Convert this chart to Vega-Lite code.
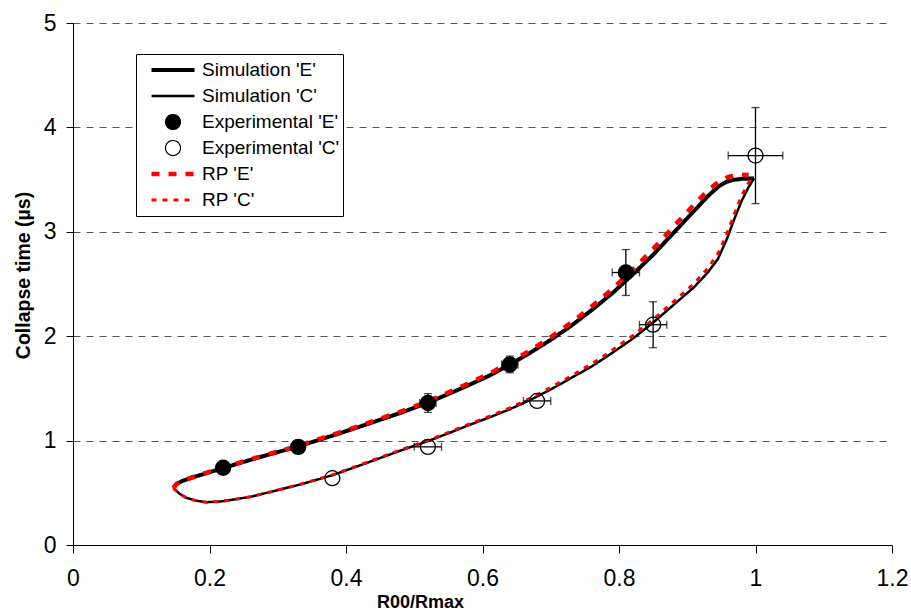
{
  "$schema": "https://vega.github.io/schema/vega-lite/v6.json",
  "width": 819,
  "height": 522,
  "autosize": {"type": "none"},
  "padding": {"left": 73, "top": 23, "right": 19, "bottom": 70},
  "background": "white",
  "config": {
    "view": {"stroke": null},
    "font": "Liberation Sans",
    "axis": {"labelFont": "Liberation Sans", "titleFont": "Liberation Sans", "labelColor": "black", "titleColor": "black", "domainColor": "black", "tickColor": "black", "labelFontSize": 23, "titleFontWeight": "bold", "labelFlush": false, "labelOverlap": false, "format": "~g"},
    "axisX": {"grid": false, "tickSize": 8, "labelPadding": 14, "titleFontSize": 18, "titleX": 347, "titleY": 48, "titleAnchor": "middle", "titleBaseline": "top"},
    "axisY": {"grid": true, "gridDash": [7, 6], "gridColor": "#555555", "gridWidth": 1, "tickSize": 7, "labelPadding": 10, "titleFontSize": 19.5, "titleX": -40, "titleY": 252, "titleAnchor": "middle", "titleAngle": -90, "titleBaseline": "bottom"}
  },
  "datasets": {
    "curves": [
      {"series": "Simulation 'E'", "i": 1, "x": 0.147, "y": 0.546},
      {"series": "Simulation 'E'", "i": 2, "x": 0.152, "y": 0.585},
      {"series": "Simulation 'E'", "i": 3, "x": 0.160, "y": 0.613},
      {"series": "Simulation 'E'", "i": 4, "x": 0.180, "y": 0.657},
      {"series": "Simulation 'E'", "i": 5, "x": 0.220, "y": 0.737},
      {"series": "Simulation 'E'", "i": 6, "x": 0.270, "y": 0.835},
      {"series": "Simulation 'E'", "i": 7, "x": 0.330, "y": 0.944},
      {"series": "Simulation 'E'", "i": 8, "x": 0.390, "y": 1.068},
      {"series": "Simulation 'E'", "i": 9, "x": 0.440, "y": 1.177},
      {"series": "Simulation 'E'", "i": 10, "x": 0.480, "y": 1.266},
      {"series": "Simulation 'E'", "i": 11, "x": 0.520, "y": 1.362},
      {"series": "Simulation 'E'", "i": 12, "x": 0.576, "y": 1.520},
      {"series": "Simulation 'E'", "i": 13, "x": 0.610, "y": 1.622},
      {"series": "Simulation 'E'", "i": 14, "x": 0.640, "y": 1.727},
      {"series": "Simulation 'E'", "i": 15, "x": 0.670, "y": 1.842},
      {"series": "Simulation 'E'", "i": 16, "x": 0.700, "y": 1.965},
      {"series": "Simulation 'E'", "i": 17, "x": 0.730, "y": 2.100},
      {"series": "Simulation 'E'", "i": 18, "x": 0.760, "y": 2.250},
      {"series": "Simulation 'E'", "i": 19, "x": 0.790, "y": 2.410},
      {"series": "Simulation 'E'", "i": 20, "x": 0.820, "y": 2.590},
      {"series": "Simulation 'E'", "i": 21, "x": 0.850, "y": 2.780},
      {"series": "Simulation 'E'", "i": 22, "x": 0.880, "y": 2.990},
      {"series": "Simulation 'E'", "i": 23, "x": 0.910, "y": 3.200},
      {"series": "Simulation 'E'", "i": 24, "x": 0.930, "y": 3.340},
      {"series": "Simulation 'E'", "i": 25, "x": 0.945, "y": 3.430},
      {"series": "Simulation 'E'", "i": 26, "x": 0.957, "y": 3.478},
      {"series": "Simulation 'E'", "i": 27, "x": 0.968, "y": 3.498},
      {"series": "Simulation 'E'", "i": 28, "x": 0.980, "y": 3.507},
      {"series": "Simulation 'E'", "i": 29, "x": 0.998, "y": 3.512},
      {"series": "Simulation 'C'", "i": 1, "x": 0.147, "y": 0.546},
      {"series": "Simulation 'C'", "i": 2, "x": 0.156, "y": 0.492},
      {"series": "Simulation 'C'", "i": 3, "x": 0.166, "y": 0.452},
      {"series": "Simulation 'C'", "i": 4, "x": 0.180, "y": 0.425},
      {"series": "Simulation 'C'", "i": 5, "x": 0.195, "y": 0.410},
      {"series": "Simulation 'C'", "i": 6, "x": 0.215, "y": 0.416},
      {"series": "Simulation 'C'", "i": 7, "x": 0.234, "y": 0.434},
      {"series": "Simulation 'C'", "i": 8, "x": 0.260, "y": 0.462},
      {"series": "Simulation 'C'", "i": 9, "x": 0.283, "y": 0.498},
      {"series": "Simulation 'C'", "i": 10, "x": 0.332, "y": 0.578},
      {"series": "Simulation 'C'", "i": 11, "x": 0.380, "y": 0.668},
      {"series": "Simulation 'C'", "i": 12, "x": 0.430, "y": 0.785},
      {"series": "Simulation 'C'", "i": 13, "x": 0.478, "y": 0.900},
      {"series": "Simulation 'C'", "i": 14, "x": 0.520, "y": 0.995},
      {"series": "Simulation 'C'", "i": 15, "x": 0.550, "y": 1.070},
      {"series": "Simulation 'C'", "i": 16, "x": 0.580, "y": 1.148},
      {"series": "Simulation 'C'", "i": 17, "x": 0.610, "y": 1.222},
      {"series": "Simulation 'C'", "i": 18, "x": 0.640, "y": 1.300},
      {"series": "Simulation 'C'", "i": 19, "x": 0.670, "y": 1.390},
      {"series": "Simulation 'C'", "i": 20, "x": 0.700, "y": 1.490},
      {"series": "Simulation 'C'", "i": 21, "x": 0.730, "y": 1.600},
      {"series": "Simulation 'C'", "i": 22, "x": 0.760, "y": 1.710},
      {"series": "Simulation 'C'", "i": 23, "x": 0.790, "y": 1.840},
      {"series": "Simulation 'C'", "i": 24, "x": 0.820, "y": 1.975},
      {"series": "Simulation 'C'", "i": 25, "x": 0.850, "y": 2.130},
      {"series": "Simulation 'C'", "i": 26, "x": 0.880, "y": 2.300},
      {"series": "Simulation 'C'", "i": 27, "x": 0.910, "y": 2.470},
      {"series": "Simulation 'C'", "i": 28, "x": 0.930, "y": 2.610},
      {"series": "Simulation 'C'", "i": 29, "x": 0.945, "y": 2.740},
      {"series": "Simulation 'C'", "i": 30, "x": 0.958, "y": 2.930},
      {"series": "Simulation 'C'", "i": 31, "x": 0.970, "y": 3.140},
      {"series": "Simulation 'C'", "i": 32, "x": 0.980, "y": 3.300},
      {"series": "Simulation 'C'", "i": 33, "x": 0.990, "y": 3.430},
      {"series": "Simulation 'C'", "i": 34, "x": 0.998, "y": 3.512},
      {"series": "RP 'E'", "i": 1, "x": 0.147, "y": 0.546},
      {"series": "RP 'E'", "i": 2, "x": 0.152, "y": 0.587},
      {"series": "RP 'E'", "i": 3, "x": 0.160, "y": 0.615},
      {"series": "RP 'E'", "i": 4, "x": 0.180, "y": 0.660},
      {"series": "RP 'E'", "i": 5, "x": 0.220, "y": 0.741},
      {"series": "RP 'E'", "i": 6, "x": 0.270, "y": 0.840},
      {"series": "RP 'E'", "i": 7, "x": 0.330, "y": 0.950},
      {"series": "RP 'E'", "i": 8, "x": 0.390, "y": 1.076},
      {"series": "RP 'E'", "i": 9, "x": 0.440, "y": 1.187},
      {"series": "RP 'E'", "i": 10, "x": 0.480, "y": 1.278},
      {"series": "RP 'E'", "i": 11, "x": 0.520, "y": 1.375},
      {"series": "RP 'E'", "i": 12, "x": 0.576, "y": 1.537},
      {"series": "RP 'E'", "i": 13, "x": 0.610, "y": 1.641},
      {"series": "RP 'E'", "i": 14, "x": 0.640, "y": 1.748},
      {"series": "RP 'E'", "i": 15, "x": 0.670, "y": 1.865},
      {"series": "RP 'E'", "i": 16, "x": 0.700, "y": 1.990},
      {"series": "RP 'E'", "i": 17, "x": 0.730, "y": 2.130},
      {"series": "RP 'E'", "i": 18, "x": 0.760, "y": 2.285},
      {"series": "RP 'E'", "i": 19, "x": 0.790, "y": 2.450},
      {"series": "RP 'E'", "i": 20, "x": 0.820, "y": 2.635},
      {"series": "RP 'E'", "i": 21, "x": 0.850, "y": 2.835},
      {"series": "RP 'E'", "i": 22, "x": 0.880, "y": 3.050},
      {"series": "RP 'E'", "i": 23, "x": 0.910, "y": 3.260},
      {"series": "RP 'E'", "i": 24, "x": 0.930, "y": 3.395},
      {"series": "RP 'E'", "i": 25, "x": 0.945, "y": 3.475},
      {"series": "RP 'E'", "i": 26, "x": 0.960, "y": 3.525},
      {"series": "RP 'E'", "i": 27, "x": 0.976, "y": 3.547},
      {"series": "RP 'E'", "i": 28, "x": 0.990, "y": 3.545},
      {"series": "RP 'C'", "i": 1, "x": 0.147, "y": 0.546},
      {"series": "RP 'C'", "i": 2, "x": 0.156, "y": 0.492},
      {"series": "RP 'C'", "i": 3, "x": 0.166, "y": 0.452},
      {"series": "RP 'C'", "i": 4, "x": 0.180, "y": 0.425},
      {"series": "RP 'C'", "i": 5, "x": 0.195, "y": 0.410},
      {"series": "RP 'C'", "i": 6, "x": 0.215, "y": 0.416},
      {"series": "RP 'C'", "i": 7, "x": 0.234, "y": 0.434},
      {"series": "RP 'C'", "i": 8, "x": 0.260, "y": 0.462},
      {"series": "RP 'C'", "i": 9, "x": 0.283, "y": 0.498},
      {"series": "RP 'C'", "i": 10, "x": 0.332, "y": 0.580},
      {"series": "RP 'C'", "i": 11, "x": 0.380, "y": 0.672},
      {"series": "RP 'C'", "i": 12, "x": 0.430, "y": 0.790},
      {"series": "RP 'C'", "i": 13, "x": 0.478, "y": 0.906},
      {"series": "RP 'C'", "i": 14, "x": 0.520, "y": 1.002},
      {"series": "RP 'C'", "i": 15, "x": 0.550, "y": 1.078},
      {"series": "RP 'C'", "i": 16, "x": 0.580, "y": 1.157},
      {"series": "RP 'C'", "i": 17, "x": 0.610, "y": 1.233},
      {"series": "RP 'C'", "i": 18, "x": 0.640, "y": 1.313},
      {"series": "RP 'C'", "i": 19, "x": 0.670, "y": 1.405},
      {"series": "RP 'C'", "i": 20, "x": 0.700, "y": 1.508},
      {"series": "RP 'C'", "i": 21, "x": 0.730, "y": 1.620},
      {"series": "RP 'C'", "i": 22, "x": 0.760, "y": 1.735},
      {"series": "RP 'C'", "i": 23, "x": 0.790, "y": 1.865},
      {"series": "RP 'C'", "i": 24, "x": 0.820, "y": 2.005},
      {"series": "RP 'C'", "i": 25, "x": 0.850, "y": 2.160},
      {"series": "RP 'C'", "i": 26, "x": 0.880, "y": 2.330},
      {"series": "RP 'C'", "i": 27, "x": 0.910, "y": 2.505},
      {"series": "RP 'C'", "i": 28, "x": 0.930, "y": 2.650},
      {"series": "RP 'C'", "i": 29, "x": 0.945, "y": 2.790},
      {"series": "RP 'C'", "i": 30, "x": 0.958, "y": 2.980},
      {"series": "RP 'C'", "i": 31, "x": 0.970, "y": 3.190},
      {"series": "RP 'C'", "i": 32, "x": 0.980, "y": 3.350},
      {"series": "RP 'C'", "i": 33, "x": 0.990, "y": 3.470},
      {"series": "RP 'C'", "i": 34, "x": 0.995, "y": 3.530}
    ],
    "points": [
      {"series": "Experimental 'E'", "x": 0.22, "y": 0.74},
      {"series": "Experimental 'E'", "x": 0.33, "y": 0.94},
      {"series": "Experimental 'E'", "x": 0.52, "y": 1.36},
      {"series": "Experimental 'E'", "x": 0.64, "y": 1.73},
      {"series": "Experimental 'E'", "x": 0.81, "y": 2.61},
      {"series": "Experimental 'C'", "x": 0.38, "y": 0.64},
      {"series": "Experimental 'C'", "x": 0.52, "y": 0.94},
      {"series": "Experimental 'C'", "x": 0.68, "y": 1.38},
      {"series": "Experimental 'C'", "x": 0.85, "y": 2.11},
      {"series": "Experimental 'C'", "x": 1.0, "y": 3.73}
    ],
    "yerr": [
      {"x": 0.52, "lo": 1.27, "hi": 1.45},
      {"x": 0.64, "lo": 1.65, "hi": 1.81},
      {"x": 0.81, "lo": 2.39, "hi": 2.83},
      {"x": 0.85, "lo": 1.89, "hi": 2.33},
      {"x": 1.0, "lo": 3.27, "hi": 4.19}
    ],
    "xerr": [
      {"y": 1.36, "lo": 0.508, "hi": 0.532},
      {"y": 1.73, "lo": 0.628, "hi": 0.652},
      {"y": 2.61, "lo": 0.79, "hi": 0.83},
      {"y": 0.94, "lo": 0.50, "hi": 0.54},
      {"y": 1.38, "lo": 0.66, "hi": 0.70},
      {"y": 2.11, "lo": 0.83, "hi": 0.87},
      {"y": 3.73, "lo": 0.96, "hi": 1.04}
    ]
  },
  "layer": [
    {
      "data": {"name": "curves"},
      "transform": [{"filter": "indexof(datum.series, 'Simulation') === 0"}],
      "mark": {"type": "line", "strokeCap": "butt", "strokeJoin": "round"},
      "encoding": {
        "x": {"field": "x", "type": "quantitative", "title": "R00/Rmax", "scale": {"domain": [0, 1.2], "nice": false, "zero": false},
          "axis": {"values": [0, 0.2, 0.4, 0.6, 0.8, 1, 1.2], "format": "~g"}},
        "y": {"field": "y", "type": "quantitative", "title": "Collapse time (µs)", "scale": {"domain": [0, 5], "nice": false, "zero": false},
          "axis": {"values": [0, 1, 2, 3, 4, 5], "format": "~g"}},
        "order": {"field": "i", "type": "quantitative"},
        "stroke": {"field": "series", "type": "nominal",
          "scale": {"domain": ["Simulation 'E'", "Simulation 'C'", "Experimental 'E'", "Experimental 'C'", "RP 'E'", "RP 'C'"], "range": ["black", "black", "black", "black", "red", "red"]},
          "legend": {"title": null, "orient": "none", "legendX": 63, "legendY": 31, "strokeColor": "black", "fillColor": "white", "padding": 3, "clipHeight": 26, "rowPadding": 0,
            "labelFontSize": 19, "labelFont": "Liberation Sans", "labelColor": "black", "symbolOffset": 10, "labelOffset": 5, "symbolStrokeColor": "black", "symbolFillColor": "transparent", "symbolOpacity": 1}},
        "strokeWidth": {"field": "series", "type": "nominal",
          "scale": {"type": "ordinal", "domain": ["Simulation 'E'", "Simulation 'C'", "Experimental 'E'", "Experimental 'C'", "RP 'E'", "RP 'C'"], "range": [4, 2.5, 1.2, 1.2, 4.5, 3]}},
        "strokeDash": {"field": "series", "type": "nominal",
          "scale": {"domain": ["Simulation 'E'", "Simulation 'C'", "Experimental 'E'", "Experimental 'C'", "RP 'E'", "RP 'C'"], "range": [[1, 0], [1, 0], [1, 0], [1, 0], [8, 9], [5, 6]]}}
      }
    },
    {
      "data": {"name": "curves"},
      "transform": [{"filter": "indexof(datum.series, 'RP') === 0"}],
      "mark": {"type": "line", "strokeCap": "butt", "strokeJoin": "round"},
      "encoding": {
        "x": {"field": "x", "type": "quantitative", "title": "R00/Rmax", "scale": {"domain": [0, 1.2]}},
        "y": {"field": "y", "type": "quantitative", "title": "Collapse time (µs)", "scale": {"domain": [0, 5]}},
        "order": {"field": "i", "type": "quantitative"},
        "stroke": {"field": "series", "type": "nominal",
          "scale": {"domain": ["Simulation 'E'", "Simulation 'C'", "Experimental 'E'", "Experimental 'C'", "RP 'E'", "RP 'C'"], "range": ["black", "black", "black", "black", "red", "red"]}},
        "strokeWidth": {"field": "series", "type": "nominal",
          "scale": {"type": "ordinal", "domain": ["Simulation 'E'", "Simulation 'C'", "Experimental 'E'", "Experimental 'C'", "RP 'E'", "RP 'C'"], "range": [4, 2.5, 1.2, 1.2, 4.5, 3]}},
        "strokeDash": {"field": "series", "type": "nominal",
          "scale": {"domain": ["Simulation 'E'", "Simulation 'C'", "Experimental 'E'", "Experimental 'C'", "RP 'E'", "RP 'C'"], "range": [[1, 0], [1, 0], [1, 0], [1, 0], [8, 9], [5, 6]]}}
      }
    },
    {
      "data": {"name": "yerr"},
      "mark": {"type": "errorbar", "ticks": true, "color": "black", "thickness": 1.3, "size": 8},
      "encoding": {
        "x": {"field": "x", "type": "quantitative", "title": "R00/Rmax", "scale": {"domain": [0, 1.2]}},
        "y": {"field": "lo", "type": "quantitative", "title": "Collapse time (µs)", "scale": {"domain": [0, 5]}},
        "y2": {"field": "hi"}
      }
    },
    {
      "data": {"name": "xerr"},
      "mark": {"type": "errorbar", "ticks": true, "color": "black", "thickness": 1.3, "size": 8},
      "encoding": {
        "y": {"field": "y", "type": "quantitative", "title": "Collapse time (µs)", "scale": {"domain": [0, 5]}},
        "x": {"field": "lo", "type": "quantitative", "title": "R00/Rmax", "scale": {"domain": [0, 1.2]}},
        "x2": {"field": "hi"}
      }
    },
    {
      "data": {"name": "points"},
      "mark": {"type": "point", "filled": true, "stroke": "black", "strokeWidth": 1.3, "opacity": 1},
      "encoding": {
        "x": {"field": "x", "type": "quantitative", "title": "R00/Rmax", "scale": {"domain": [0, 1.2]}},
        "y": {"field": "y", "type": "quantitative", "title": "Collapse time (µs)", "scale": {"domain": [0, 5]}},
        "fill": {"field": "series", "type": "nominal",
          "scale": {"domain": ["Simulation 'E'", "Simulation 'C'", "Experimental 'E'", "Experimental 'C'", "RP 'E'", "RP 'C'"], "range": ["transparent", "transparent", "black", "transparent", "transparent", "transparent"]}},
        "shape": {"field": "series", "type": "nominal",
          "scale": {"domain": ["Simulation 'E'", "Simulation 'C'", "Experimental 'E'", "Experimental 'C'", "RP 'E'", "RP 'C'"], "range": ["stroke", "stroke", "circle", "circle", "stroke", "stroke"]}},
        "size": {"field": "series", "type": "nominal",
          "scale": {"type": "ordinal", "domain": ["Simulation 'E'", "Simulation 'C'", "Experimental 'E'", "Experimental 'C'", "RP 'E'", "RP 'C'"], "range": [1849, 1849, 225, 225, 1849, 1849]}}
      }
    }
  ]
}
